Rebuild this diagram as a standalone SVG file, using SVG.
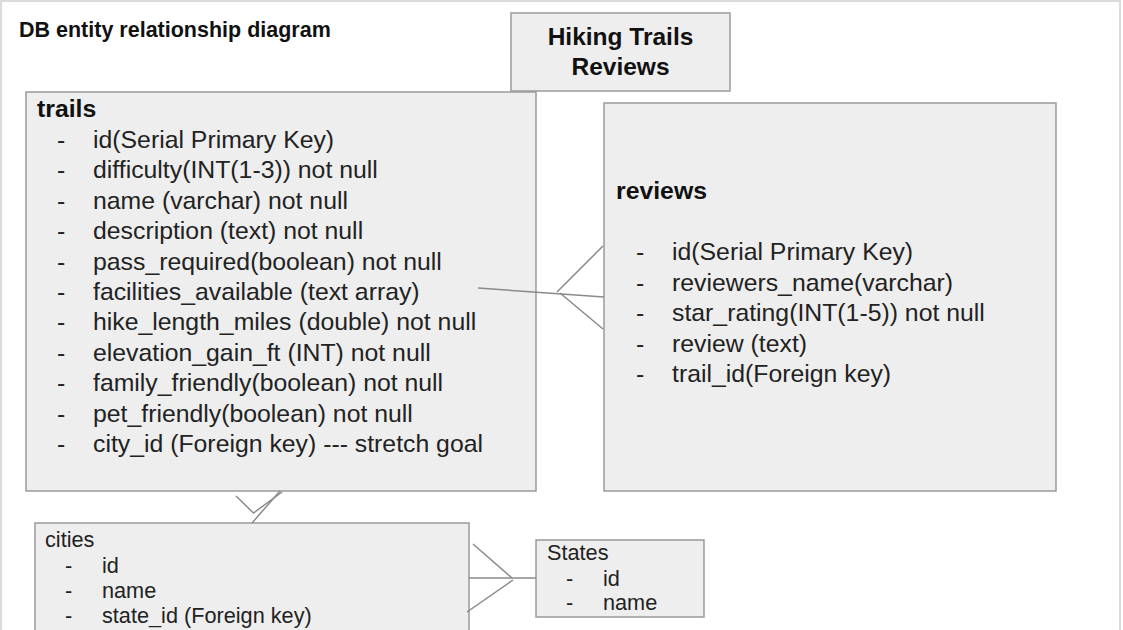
<svg xmlns="http://www.w3.org/2000/svg" width="1123" height="630" viewBox="0 0 1123 630">
<style>
.box{fill:#eeeeee;stroke:#9a9a9a;stroke-width:1.5}
.t{font-family:"Liberation Sans",Arial,sans-serif;fill:#222}
.b{font-weight:bold;fill:#111}
.big{font-size:24.8px}
.sm{font-size:21.7px}
.conn line,.conn polyline{stroke:#8a8a8a;stroke-width:1.5;fill:none}
</style>
<rect x="0" y="0" width="1123" height="630" fill="#ffffff"/>
<rect x="1" y="1" width="1119" height="640" fill="none" stroke="#d0d0d0" stroke-width="1.5"/>
<text class="t b" x="19" y="37" font-size="21.5">DB entity relationship diagram</text>

<g id="title">
<rect class="box" x="511" y="13" width="219" height="78"/>
<text class="t b" x="620.5" y="45" font-size="24.5" text-anchor="middle">Hiking Trails</text>
<text class="t b" x="620.5" y="75" font-size="24.5" text-anchor="middle">Reviews</text>
</g>

<g id="trails">
<rect class="box" x="26" y="92" width="510" height="399"/>
<text class="t b big" x="37" y="117">trails</text>
<g class="t big">
<text x="57" y="148">-</text><text x="93" y="148">id(Serial Primary Key)</text>
<text x="57" y="178.4">-</text><text x="93" y="178.4">difficulty(INT(1-3)) not null</text>
<text x="57" y="208.8">-</text><text x="93" y="208.8">name (varchar) not null</text>
<text x="57" y="239.2">-</text><text x="93" y="239.2">description (text) not null</text>
<text x="57" y="269.6">-</text><text x="93" y="269.6">pass_required(boolean) not null</text>
<text x="57" y="300">-</text><text x="93" y="300">facilities_available (text array)</text>
<text x="57" y="330.4">-</text><text x="93" y="330.4">hike_length_miles (double) not null</text>
<text x="57" y="360.8">-</text><text x="93" y="360.8">elevation_gain_ft (INT) not null</text>
<text x="57" y="391.2">-</text><text x="93" y="391.2">family_friendly(boolean) not null</text>
<text x="57" y="421.6">-</text><text x="93" y="421.6">pet_friendly(boolean) not null</text>
<text x="57" y="452">-</text><text x="93" y="452">city_id (Foreign key) --- stretch goal</text>
</g>
</g>

<g id="reviews">
<rect class="box" x="604" y="103" width="452" height="388"/>
<text class="t b big" x="616" y="199">reviews</text>
<g class="t big">
<text x="636" y="260">-</text><text x="672" y="260">id(Serial Primary Key)</text>
<text x="636" y="290.5">-</text><text x="672" y="290.5">reviewers_name(varchar)</text>
<text x="636" y="321">-</text><text x="672" y="321">star_rating(INT(1-5)) not null</text>
<text x="636" y="351.5">-</text><text x="672" y="351.5">review (text)</text>
<text x="636" y="382">-</text><text x="672" y="382">trail_id(Foreign key)</text>
</g>
</g>

<g id="cities">
<rect class="box" x="35" y="523" width="434" height="120"/>
<g class="t sm">
<text x="45" y="547">cities</text>
<text x="65" y="573">-</text><text x="102" y="573">id</text>
<text x="65" y="598">-</text><text x="102" y="598">name</text>
<text x="65" y="623">-</text><text x="102" y="623">state_id (Foreign key)</text>
</g>
</g>

<g id="states">
<rect class="box" x="536" y="540" width="168" height="77"/>
<g class="t sm">
<text x="547" y="560">States</text>
<text x="566" y="586">-</text><text x="603" y="586">id</text>
<text x="566" y="610">-</text><text x="603" y="610">name</text>
</g>
</g>

<g id="connectors" class="conn">
<line x1="478" y1="288" x2="604" y2="297"/>
<line x1="603" y1="246" x2="557" y2="292"/>
<line x1="560" y1="293" x2="603" y2="329"/>
<line x1="469" y1="578" x2="536" y2="578"/>
<line x1="473" y1="544" x2="512" y2="578"/>
<line x1="513" y1="580" x2="467" y2="612"/>
<polyline points="236,496 253.5,513 282,492"/>
<line x1="252" y1="523" x2="280" y2="491"/>
</g>
</svg>
